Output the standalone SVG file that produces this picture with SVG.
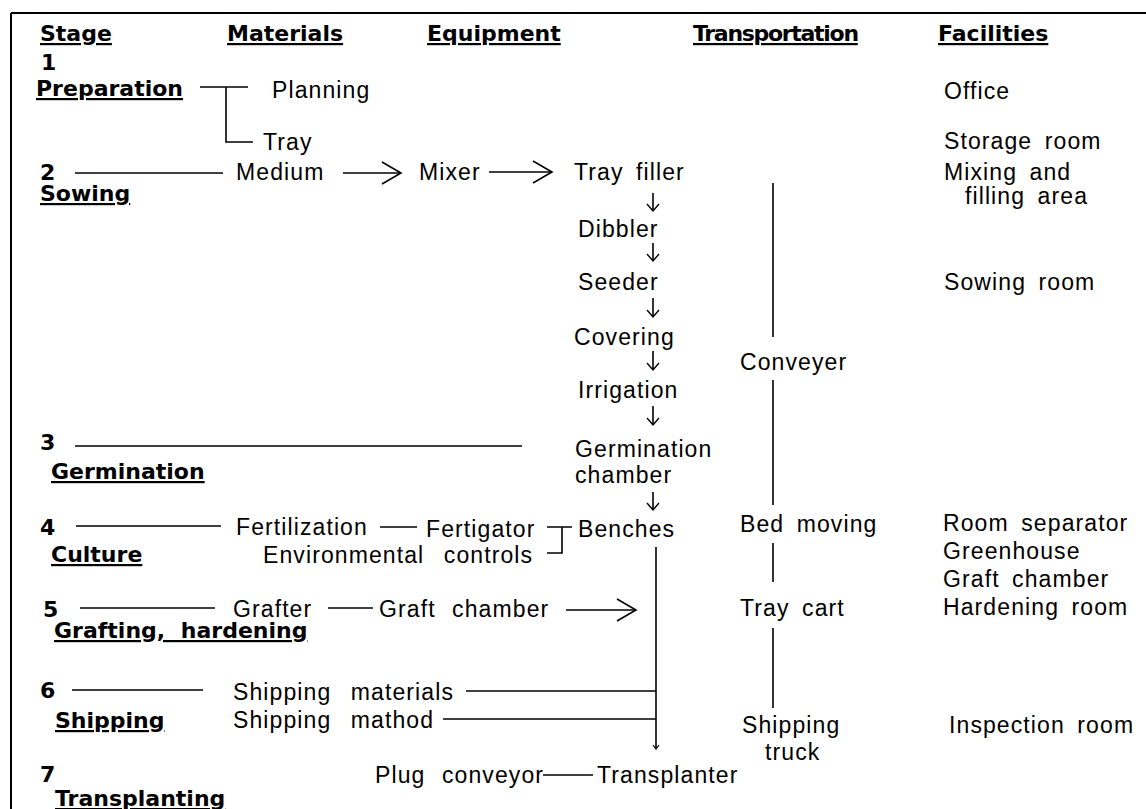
<svg xmlns="http://www.w3.org/2000/svg" width="1146" height="809" viewBox="0 0 1146 809">
<style>
text{font-family:"Liberation Sans",Arial,sans-serif;font-size:23px;fill:#000;letter-spacing:1.1px;word-spacing:5px}
.b{font-family:"DejaVu Sans",sans-serif;font-size:22px;font-weight:bold;letter-spacing:0;word-spacing:0}
.u{text-decoration:underline}
line,path.c{stroke:#000;stroke-width:1.6;fill:none}
</style>
<defs>
<marker id="chev" markerUnits="userSpaceOnUse" markerWidth="26" markerHeight="28" viewBox="-22 -14 26 28" refX="0" refY="0" orient="auto" overflow="visible"><path d="M-19,-11 L0,0 L-19,11" fill="none" stroke="#000" stroke-width="1.6"/></marker>
<marker id="sm" markerUnits="userSpaceOnUse" markerWidth="12" markerHeight="14" viewBox="-8 -7 10 14" refX="0" refY="0" orient="auto" overflow="visible"><path d="M-7,-6 L0,0 L-7,6" fill="none" stroke="#000" stroke-width="1.4"/></marker>
<marker id="tiny" markerUnits="userSpaceOnUse" markerWidth="8" markerHeight="8" viewBox="-5 -4 6 8" refX="0" refY="0" orient="auto" overflow="visible"><path d="M-4,-3 L0,0 L-4,3" fill="none" stroke="#000" stroke-width="1.2"/></marker>
</defs>
<rect width="1146" height="809" fill="#fff"/>
<g id="frame"><line x1="11" y1="13" x2="1146" y2="13" style="stroke-width:2"/><line x1="11" y1="13" x2="11" y2="809" style="stroke-width:2"/></g>

<g id="headers">
<text class="b u" x="40" y="41">Stage</text>
<text class="b u" x="227" y="41">Materials</text>
<text class="b u" x="427" y="41">Equipment</text>
<text class="b u" x="693" y="41" style="letter-spacing:-1.3px">Transportation</text>
<text class="b u" x="938" y="41">Facilities</text>
</g>

<g id="stage1"><text class="b" x="41" y="70">1</text><text class="b u" x="36" y="96">Preparation</text></g>
<g id="stage2"><text class="b" x="40" y="180">2</text><text class="b u" x="40" y="201">Sowing</text></g>
<g id="stage3"><text class="b" x="40" y="450">3</text><text class="b u" x="51" y="479">Germination</text></g>
<g id="stage4"><text class="b" x="40" y="535">4</text><text class="b u" x="51" y="562">Culture</text></g>
<g id="stage5"><text class="b" x="43" y="617">5</text><text class="b u" x="54" y="638" style="word-spacing:8px">Grafting, hardening</text></g>
<g id="stage6"><text class="b" x="40" y="698">6</text><text class="b u" x="55" y="728">Shipping</text></g>
<g id="stage7"><text class="b" x="40" y="782">7</text><text class="b u" x="55" y="806">Transplanting</text></g>

<g id="materials">
<text id="planning" x="272" y="98">Planning</text>
<text id="tray" x="263" y="150">Tray</text>
<text id="medium" x="236" y="180">Medium</text>
<text id="fertilization" x="236" y="535">Fertilization</text>
<text id="envcontrols" x="263" y="563" style="word-spacing:12px">Environmental controls</text>
<text id="grafter" x="233" y="617">Grafter</text>
<text id="shipmat" x="233" y="700" style="word-spacing:12px">Shipping materials</text>
<text id="shipmeth" x="233" y="728" style="word-spacing:12px">Shipping mathod</text>
</g>

<g id="equipment">
<text id="mixer" x="419" y="180">Mixer</text>
<text id="trayfiller" x="574" y="180">Tray filler</text>
<text id="dibbler" x="578" y="237">Dibbler</text>
<text id="seeder" x="578" y="290">Seeder</text>
<text id="covering" x="574" y="345">Covering</text>
<text id="irrigation" x="578" y="398">Irrigation</text>
<text id="germchamber" x="575" y="457">Germination<tspan x="575" y="483">chamber</tspan></text>
<text id="fertigator" x="426" y="537">Fertigator</text>
<text id="benches" x="578" y="537">Benches</text>
<text id="graftchamber" x="379" y="617" style="word-spacing:9px">Graft chamber</text>
<text id="plugconveyor" x="375" y="783" style="word-spacing:9px">Plug conveyor</text>
<text id="transplanter" x="597" y="783">Transplanter</text>
</g>

<g id="transportation">
<text id="conveyer" x="740" y="370">Conveyer</text>
<text id="bedmoving" x="740" y="532">Bed moving</text>
<text id="traycart" x="740" y="616">Tray cart</text>
<text id="shiptruck" x="742" y="733">Shipping<tspan x="765" y="760">truck</tspan></text>
</g>

<g id="facilities">
<text id="office" x="944" y="99">Office</text>
<text id="storage" x="944" y="149">Storage room</text>
<text id="mixing" x="944" y="180">Mixing and<tspan x="965" y="204">filling area</tspan></text>
<text id="sowingroom" x="944" y="290">Sowing room</text>
<text id="roomsep" x="943" y="531">Room separator</text>
<text id="greenhouse" x="943" y="559">Greenhouse</text>
<text id="graftch" x="943" y="587">Graft chamber</text>
<text id="hardening" x="943" y="615">Hardening room</text>
<text id="inspection" x="949" y="733">Inspection room</text>
</g>

<g id="connectors">
<line x1="200" y1="87" x2="248" y2="87"/>
<path class="c" d="M226,87 V142 H253"/>
<line x1="75" y1="173" x2="223" y2="173"/>
<line x1="343" y1="173" x2="401" y2="173" marker-end="url(#chev)"/>
<line x1="489" y1="172" x2="552" y2="172" marker-end="url(#chev)"/>
<line x1="653" y1="193" x2="653" y2="211" marker-end="url(#sm)"/>
<line x1="653" y1="243" x2="653" y2="261" marker-end="url(#sm)"/>
<line x1="653" y1="298" x2="653" y2="317" marker-end="url(#sm)"/>
<line x1="653" y1="351" x2="653" y2="370" marker-end="url(#sm)"/>
<line x1="653" y1="406" x2="653" y2="425" marker-end="url(#sm)"/>
<line x1="653" y1="492" x2="653" y2="510" marker-end="url(#sm)"/>
<line x1="75" y1="446" x2="522" y2="446"/>
<line x1="76" y1="526" x2="221" y2="526"/>
<line x1="380" y1="527" x2="417" y2="527"/>
<path class="c" d="M547,527 H572 M562,527 V553 H547"/>
<line x1="656" y1="547" x2="656" y2="749" marker-end="url(#tiny)"/>
<line x1="80" y1="608" x2="215" y2="608"/>
<line x1="328" y1="608" x2="373" y2="608"/>
<line x1="566" y1="610" x2="636" y2="610" marker-end="url(#chev)"/>
<line x1="72" y1="690" x2="203" y2="690"/>
<line x1="466" y1="691" x2="656" y2="691"/>
<line x1="443" y1="719" x2="656" y2="719"/>
<line x1="543" y1="775" x2="593" y2="775"/>
<line x1="773" y1="183" x2="773" y2="337"/>
<line x1="773" y1="380" x2="773" y2="505"/>
<line x1="773" y1="543" x2="773" y2="582"/>
<line x1="773" y1="628" x2="773" y2="708"/>
</g>
</svg>
